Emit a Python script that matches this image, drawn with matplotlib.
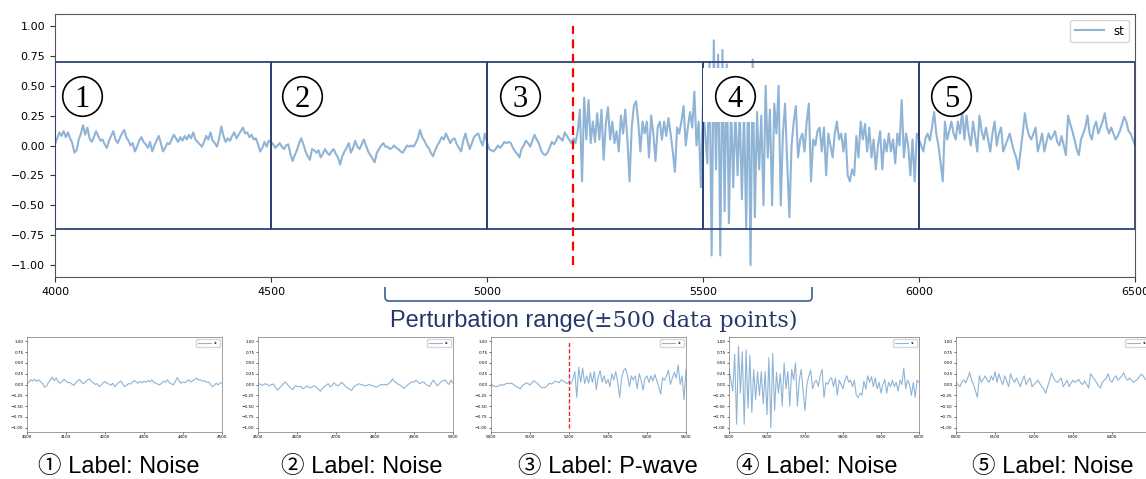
import numpy as np
import matplotlib
matplotlib.use("Agg")
import matplotlib.pyplot as plt
from matplotlib.patches import Rectangle, PathPatch
from matplotlib.path import Path

# ── Trace (one value every 5 samples) ─────────────────────────
STEP = 5
T0 = 4000

noise_1 = [0.01, 0.06, 0.11, 0.08, 0.12, 0.07, 0.11, 0.06, 0.02, -0.06,
           -0.04, 0.05, 0.10, 0.17, 0.09, 0.15, 0.06, 0.03, 0.07, 0.12,
           0.08, 0.04, 0.05, 0.01, -0.02, 0.04, 0.08, 0.12, 0.05, 0.02,
           0.06, 0.10, 0.13, 0.07, 0.04, 0.00, 0.02, -0.05, -0.01, 0.04,
           0.07, 0.03, 0.01, -0.02, 0.03, -0.05, 0.00, 0.04, 0.08, 0.02,
           -0.05, -0.02, 0.02, 0.01, 0.05, 0.09, 0.06, 0.03, 0.07, 0.04,
           0.08, 0.05, 0.09, 0.06, 0.11, 0.05, 0.03, 0.01, -0.01, 0.03,
           0.08, 0.05, 0.11, 0.04, 0.02, -0.01, 0.06, 0.16, 0.08, 0.03,
           0.06, 0.04, 0.08, 0.11, 0.06, 0.09, 0.12, 0.15, 0.10, 0.11,
           0.07, 0.09, 0.05, 0.06, 0.01, -0.05, -0.02, 0.03, -0.01, 0.04]

noise_2 = [0.03, 0.01, -0.02, 0.00, 0.02, -0.01, -0.03, 0.00, 0.01, -0.07,
           -0.13, -0.08, -0.04, 0.02, 0.06, 0.01, -0.05, -0.09, -0.12, -0.03,
           -0.04, -0.06, -0.04, -0.10, -0.07, -0.03, -0.06, -0.08, -0.05, -0.03,
           -0.07, -0.10, -0.16, -0.09, -0.05, -0.02, 0.02, -0.06, -0.02, 0.04,
           -0.01, -0.03, 0.01, 0.05, 0.00, -0.05, -0.08, -0.11, -0.14, -0.06,
           -0.03, 0.00, 0.02, -0.01, -0.01, -0.03, -0.02, 0.00, -0.02, -0.03,
           -0.05, -0.06, -0.03, 0.00, -0.01, 0.00, -0.01, 0.02, 0.06, 0.13,
           0.07, 0.04, 0.00, -0.02, -0.06, -0.09, -0.04, 0.00, 0.03, 0.07,
           0.05, 0.10, 0.06, 0.02, 0.05, 0.06, 0.01, -0.02, -0.05, 0.04,
           0.10, 0.03, -0.03, 0.02, 0.07, 0.09, 0.10, 0.04, 0.00, 0.10]

pre_event = [0.03, -0.03, -0.04, -0.05, -0.03, 0.00, -0.02, 0.00, 0.03, 0.02,
             0.03, 0.02, -0.02, -0.05, -0.07, -0.10, -0.03, 0.00, 0.04, 0.02,
             -0.01, 0.04, 0.09, 0.05, 0.02, -0.04, -0.07, -0.08, -0.06, -0.02,
             0.03, 0.01, 0.04, 0.08, 0.06, 0.04, 0.11, 0.08, 0.05, 0.02]

p_wave = [0.06, 0.02, 0.12, 0.30, -0.30, 0.40, 0.05, 0.38, 0.02, 0.20,
          0.03, 0.27, 0.05, 0.30, -0.12, 0.18, 0.32, 0.05, 0.20, 0.02,
          0.12, -0.05, 0.25, 0.10, 0.30, 0.05, -0.30, 0.15, 0.33, 0.37,
          0.20, -0.05, 0.20, 0.10, 0.20, -0.10, 0.25, 0.10, -0.13, 0.15,
          0.20, 0.05, 0.20, 0.08, 0.23, 0.10, -0.05, -0.22, 0.15, 0.10,
          0.20, 0.33, 0.00, 0.15, 0.28, 0.15, 0.45, 0.00, 0.20, -0.35]

coda = [0.35, 0.10, -0.15, 0.70, -0.92, 0.88, -0.20, 0.76, -0.92, 0.80,
        -0.55, 0.68, -0.65, 0.35, -0.35, 0.30, -0.25, 0.30, -0.45, 0.30,
        -0.70, 0.62, -1.00, 0.72, -0.60, 0.28, -0.20, 0.25, -0.50, 0.50,
        -0.10, 0.30, -0.50, 0.35, 0.10, 0.50, -0.50, 0.10, 0.35, -0.15,
        -0.60, 0.00, 0.20, 0.33, -0.10, 0.05, 0.10, -0.05, 0.20, 0.35,
        -0.30, 0.05, 0.00, 0.12, 0.15, -0.05, 0.15, -0.25, 0.10, 0.00,
        -0.10, 0.10, 0.20, 0.05, 0.10, -0.05, 0.10, -0.25, -0.30, -0.20,
        -0.25, 0.08, -0.10, 0.20, 0.05, 0.18, -0.05, 0.15, -0.10, 0.05,
        -0.20, 0.00, 0.12, -0.20, 0.05, -0.05, 0.10, -0.05, 0.05, -0.15,
        0.10, 0.00, 0.38, -0.10, 0.10, 0.00, -0.25, 0.05, -0.30, 0.10]

tail = [0.05, 0.00, -0.05, 0.06, 0.10, 0.04, 0.15, 0.28, 0.10, 0.00,
        -0.15, -0.30, 0.20, 0.05, 0.12, 0.20, 0.10, 0.05, 0.20, 0.10,
        0.30, 0.05, 0.25, 0.10, 0.00, 0.20, 0.08, -0.05, 0.25, 0.12,
        0.05, 0.15, 0.05, -0.05, 0.10, 0.20, 0.00, 0.10, 0.15, -0.05,
        0.00, 0.05, 0.10, 0.02, -0.05, -0.10, -0.20, -0.05, 0.10, 0.27,
        0.15, 0.08, 0.05, 0.10, 0.15, -0.05, 0.02, 0.10, -0.05, 0.03,
        0.10, 0.05, 0.08, 0.12, 0.03, 0.00, 0.08, 0.00, -0.08, 0.25,
        0.18, 0.12, 0.05, -0.03, -0.08, 0.05, 0.10, 0.15, 0.25, 0.10,
        0.05, 0.15, 0.20, 0.10, 0.15, 0.20, 0.27, 0.15, 0.10, 0.15,
        0.10, 0.05, 0.08, 0.12, 0.18, 0.24, 0.20, 0.12, 0.10, 0.05,
        0.00]

st = np.array(noise_1 + noise_2 + pre_event + p_wave + coda + tail)
t = T0 + STEP * np.arange(len(st))

p_arrival = 5200
win_edges = [4000, 4500, 5000, 5500, 6000, 6500]
win_numbers = ["1", "2", "3", "4", "5"]
win_circled = ["①", "②", "③", "④", "⑤"]
win_tag_x = [4062, 4572, 5076, 5574, 6075]
win_tag_y = 0.41
win_labels = ["Noise", "Noise", "P-wave", "Noise", "Noise"]
box_half = 0.7
y_ticks = [-1.0, -0.75, -0.5, -0.25, 0.0, 0.25, 0.5, 0.75, 1.0]

# ── Style ─────────────────────────────────────────────────────
W, H = 1146, 479
TRACE = "#8fb4d6"
NAVY = "#2e4373"
TEXT_NAVY = "#24396a"


def fx(px):
    return px / W


def fy(py):
    return 1 - py / H


fig = plt.figure(figsize=(W / 100, H / 100), dpi=100)

# ── Main trace ────────────────────────────────────────────────
ax = fig.add_axes([fx(55), fy(277), fx(1080), 263 / H])
ax.plot(t, st, color=TRACE, lw=1.5, label="st", zorder=2)
for a, b in zip(win_edges[:-1], win_edges[1:]):
    ax.add_patch(Rectangle((a, -box_half), b - a, 2 * box_half, fill=False,
                           edgecolor=NAVY, lw=1.3, zorder=3))
ax.axvline(p_arrival, ymin=0.045, ymax=0.955, color="red", ls="--", lw=1.6,
           dashes=(4, 2.5), zorder=4)
# label box over window 4
ax.add_patch(Rectangle((5499, 0.2), 123, 0.45, facecolor="white",
                       edgecolor="none", zorder=4))
for xt, num in zip(win_tag_x, win_numbers):
    ax.plot([xt], [win_tag_y], "o", ms=28.5, mfc="white", mec="black",
            mew=1.2, zorder=5)
    ax.annotate(num, (xt, win_tag_y), xytext=(0, -7.4),
                textcoords="offset points", ha="center", va="baseline",
                fontsize=22, family="Liberation Serif", zorder=6)

ax.set_xlim(win_edges[0], win_edges[-1])
ax.set_ylim(-1.1, 1.1)
ax.set_xticks(win_edges)
ax.set_yticks(y_ticks)
ax.tick_params(labelsize=8, color="#333333")
for sp in ax.spines.values():
    sp.set_color("#555555")
ax.legend(loc="upper right", fontsize=8.5, handlelength=2.5)

# ── Zoomed windows ────────────────────────────────────────────
small_left = [27, 258, 491, 729, 956]
small_width = [195, 195, 195, 190, 195]
label_cx = [119, 362, 608, 817, 1053]
for i in range(5):
    a, b = win_edges[i], win_edges[i + 1]
    sax = fig.add_axes([fx(small_left[i]), fy(432), fx(small_width[i]), 95 / H])
    sax.plot(t, st, color=TRACE, lw=0.8, label="st")
    if a <= p_arrival <= b:
        sax.axvline(p_arrival, ymin=0.045, ymax=0.955, color="#e8262b",
                    ls="--", lw=1.0, dashes=(3, 1.5))
    sax.set_xlim(a, b)
    sax.set_ylim(-1.1, 1.1)
    sax.set_xticks(np.arange(a, b + 1, 100))
    sax.set_yticks(y_ticks)
    sax.tick_params(labelsize=3, length=1.5, width=0.4, pad=1)
    for sp in sax.spines.values():
        sp.set_linewidth(0.5)
        sp.set_color("#777777")
    sax.legend(loc="upper right", fontsize=3, handlelength=3, borderpad=0.5)
    fig.text(fx(label_cx[i]), fy(473), f"{win_circled[i]} Label: {win_labels[i]}",
             ha="center", va="baseline", fontsize=17,
             family=["Liberation Sans", "Noto Sans CJK SC"])

# ── Perturbation bracket and caption ──────────────────────────
ytop, ybot = fy(287), fy(301)
r = 4
verts = [(fx(385), ytop), (fx(385), fy(301 - r)), (fx(385), ybot),
         (fx(385 + r), ybot), (fx(812 - r), ybot), (fx(812), ybot),
         (fx(812), fy(301 - r)), (fx(812), ytop)]
codes = [Path.MOVETO, Path.LINETO, Path.CURVE3, Path.CURVE3, Path.LINETO,
         Path.CURVE3, Path.CURVE3, Path.LINETO]
fig.add_artist(PathPatch(Path(verts, codes), fill=False, edgecolor="#3c5d94",
                         lw=1.2, transform=fig.transFigure))

t1 = fig.text(fx(390), fy(327), "Perturbation range(", ha="left",
              va="baseline", fontsize=17, family="Liberation Sans",
              color=TEXT_NAVY)
fig.canvas.draw()
bb = t1.get_window_extent()
fig.text(bb.x1 / W, fy(327), "±500 data points)", ha="left", va="baseline",
         fontsize=16, family="DejaVu Serif", color=TEXT_NAVY)

fig.savefig("out.png", dpi=100)
